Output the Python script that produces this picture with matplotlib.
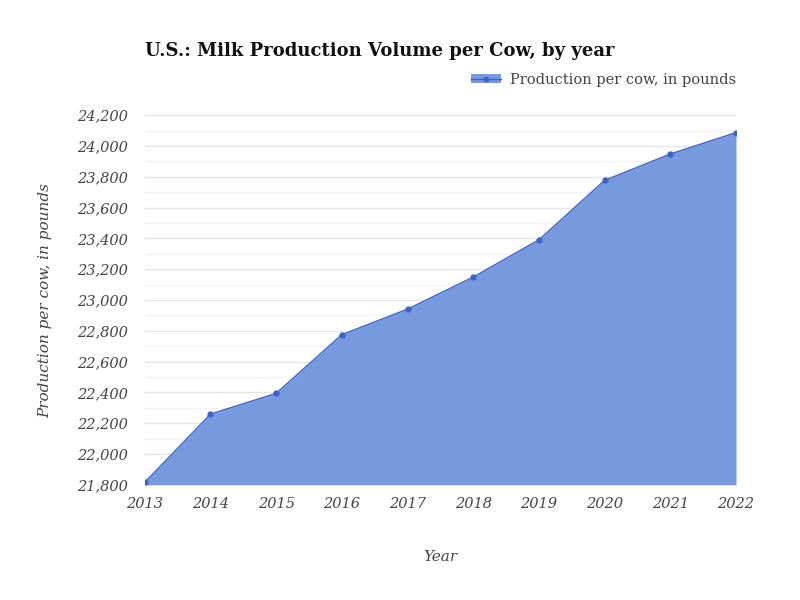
import matplotlib

matplotlib.use("Agg")

import matplotlib.pyplot as plt
from matplotlib.lines import Line2D
from matplotlib.patches import Patch
from matplotlib.ticker import FuncFormatter, MultipleLocator

# values
years = [2013, 2014, 2015, 2016, 2017, 2018, 2019, 2020, 2021, 2022]
production = [21816, 22259, 22394, 22775, 22941, 23149, 23391, 23777, 23948, 24087]

title = "U.S.: Milk Production Volume per Cow, by year"
series_label = "Production per cow, in pounds"
x_label = "Year"
y_label = "Production per cow, in pounds"

fill_color = "#7799dd"
line_color = "#3d63c6"
text_color = "#444444"
serif = ["DejaVu Serif"]

fig = plt.figure(figsize=(8, 6), dpi=100)
ax = fig.add_axes([0.181, 0.192, 0.739, 0.616])

ax.fill_between(years, production, 21800, color=fill_color, lw=0, zorder=2)
ax.plot(years, production, color=line_color, lw=1, marker="o", markersize=3.5, zorder=3)

ax.set_xlim(years[0], years[-1])
ax.set_ylim(21800, 24200)
ax.set_xticks(years)
ax.yaxis.set_major_locator(MultipleLocator(200))
ax.yaxis.set_minor_locator(MultipleLocator(100))
ax.yaxis.set_major_formatter(FuncFormatter(lambda v, p: f"{int(v):,}"))

ax.grid(axis="y", which="major", color="#e6e6e6", lw=1, zorder=0)
ax.grid(axis="y", which="minor", color="#f2f2f2", lw=1, zorder=0)
for s in ax.spines.values():
    s.set_visible(False)
ax.tick_params(axis="y", length=0, pad=12)
ax.tick_params(axis="x", length=0, pad=9)
ax.tick_params(axis="y", which="minor", length=0)

for lbl in ax.get_xticklabels() + ax.get_yticklabels():
    lbl.set_family(serif)
    lbl.set_style("italic")
    lbl.set_fontsize(10.5)
    lbl.set_color(text_color)

ax.set_xlabel(x_label, family=serif, style="italic", fontsize=11, color=text_color, labelpad=28)
ax.set_ylabel(y_label, family=serif, style="italic", fontsize=11, color=text_color, labelpad=18)

fig.text(0.181, 0.915, title, family=serif, weight="bold", fontsize=13, color="#111111",
         ha="left", va="center")

# legend handle: filled box with the line and a marker on top
handle = (Patch(facecolor=fill_color, edgecolor="none"),
          Line2D([], [], color=line_color, lw=1, marker="o", markersize=3))
leg = fig.legend([handle], [series_label], loc="center right", bbox_to_anchor=(0.92, 0.867),
                 frameon=False, handlelength=2.1, handleheight=0.6, handletextpad=0.6,
                 borderaxespad=0, borderpad=0, prop={"family": serif, "size": 10.5})
for t in leg.get_texts():
    t.set_color(text_color)

plt.savefig("out.png", dpi=100)
